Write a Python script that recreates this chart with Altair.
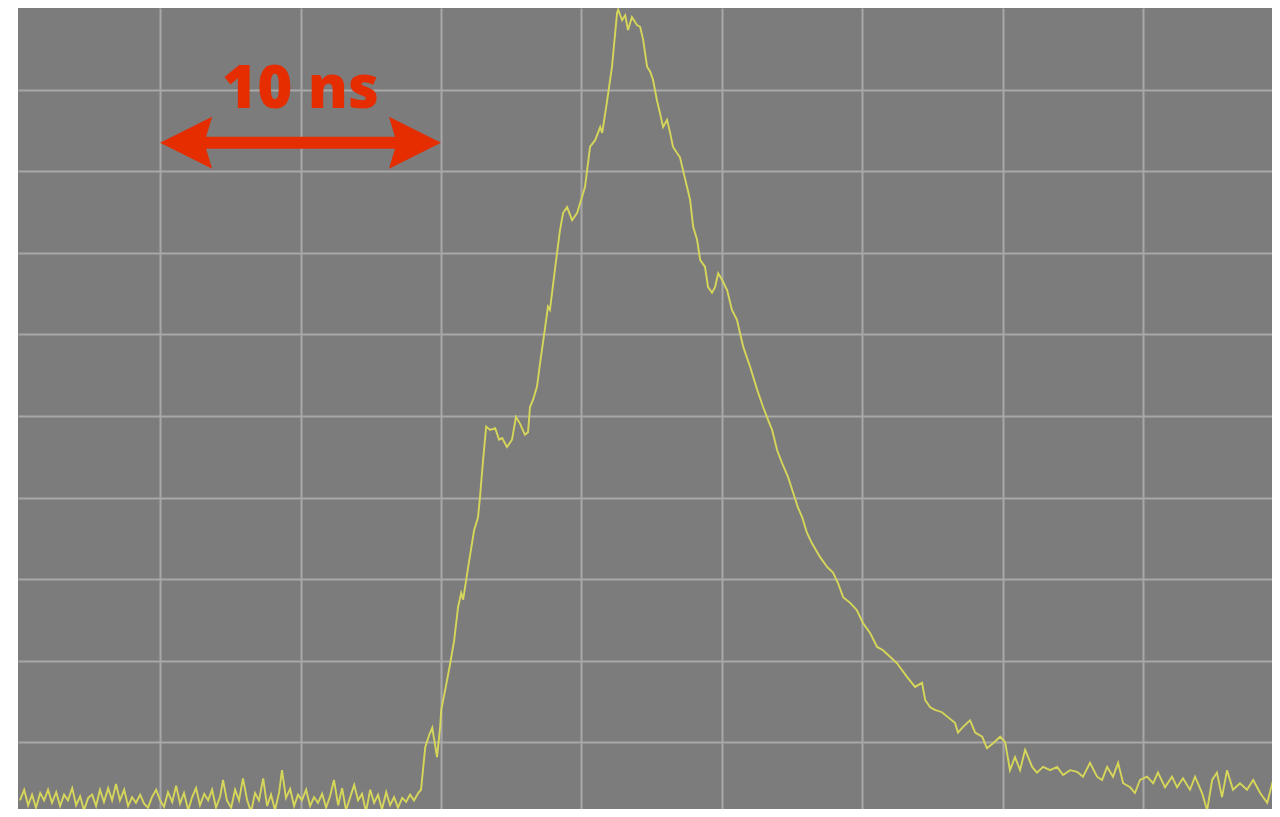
import altair as alt
import pandas as pd

# Oscilloscope trace: time in ns (5 ns / div), amplitude in divisions
t_ns = [
    0.01, 0.16, 0.30, 0.44, 0.58, 0.73, 0.87, 1.01, 1.15, 1.30, 1.44, 1.58, 1.72, 1.87, 2.01, 2.15,
    2.29, 2.44, 2.58, 2.72, 2.86, 3.00, 3.15, 3.29, 3.43, 3.57, 3.72, 3.86, 4.00, 4.14, 4.29, 4.43,
    4.57, 4.71, 4.86, 5.00, 5.14, 5.28, 5.43, 5.57, 5.71, 5.85, 6.00, 6.14, 6.28, 6.42, 6.57, 6.71,
    6.85, 6.99, 7.14, 7.24, 7.38, 7.53, 7.67, 7.81, 7.95, 8.10, 8.24, 8.38, 8.52, 8.67, 8.81, 8.95,
    9.09, 9.24, 9.34, 9.48, 9.63, 9.77, 9.91, 10.05, 10.20, 10.34, 10.48, 10.62, 10.77, 10.91, 11.05,
    11.19, 11.34, 11.48, 11.62, 11.76, 11.91, 12.05, 12.19, 12.33, 12.48, 12.62, 12.76, 12.90, 13.05,
    13.19, 13.33, 13.47, 13.62, 13.76, 13.90, 14.04, 14.19, 14.29,
    14.44, 14.58, 14.69, 14.79, 14.86, 14.97, 15.01, 15.15, 15.33, 15.47, 15.61, 15.72, 15.79, 15.97,
    16.18, 16.32, 16.39, 16.50, 16.61, 16.75, 16.93, 17.07, 17.18, 17.35, 17.53, 17.67, 17.81, 17.99,
    18.10, 18.17, 18.28, 18.42, 18.53, 18.71, 18.81, 18.88, 19.10, 19.24, 19.35, 19.49, 19.67, 19.85,
    20.02, 20.13, 20.31, 20.49, 20.67, 20.74, 20.92, 21.09, 21.27, 21.31, 21.45, 21.56, 21.66, 21.80,
    21.98, 22.09, 22.20, 22.34, 22.45, 22.55, 22.69, 22.80, 22.91, 23.05, 23.16, 23.26, 23.41, 23.51,
    23.62, 23.76, 23.87, 23.98, 24.12, 24.23, 24.40, 24.51, 24.65, 24.76, 24.87, 25.01, 25.19, 25.36,
    25.54, 25.76, 26.01, 26.26, 26.47, 26.65, 26.79, 26.97, 27.15, 27.36, 27.54, 27.71, 27.86, 28.03,
    28.21, 28.50, 28.75, 28.96, 29.14, 29.32, 29.57, 29.81, 30.03, 30.28, 30.53, 30.74, 30.99, 31.24,
    31.60, 31.88, 32.13, 32.24, 32.42, 32.59, 32.84, 33.05, 33.30, 33.41, 33.59, 33.84, 34.02, 34.27,
    34.44, 34.66, 34.91, 35.09, 35.26, 35.44, 35.62, 35.80, 36.05, 36.22, 36.44, 36.69, 36.94, 37.15,
    37.40, 37.65, 37.86, 38.11, 38.36, 38.54, 38.72, 38.93, 39.11, 39.29, 39.54, 39.71, 39.89, 40.14,
    40.36, 40.53, 40.78, 41.03, 41.21, 41.42, 41.67, 41.85, 42.10, 42.28, 42.46, 42.63, 42.81, 42.99,
    43.20, 43.45, 43.70, 43.92, 44.17, 44.42, 44.63, 44.81, 44.92,
]
amp_div = [
    0.29, 0.42, 0.23, 0.36, 0.20, 0.38, 0.29, 0.42, 0.26, 0.39, 0.22, 0.36, 0.29, 0.44, 0.23, 0.34,
    0.17, 0.32, 0.36, 0.22, 0.42, 0.27, 0.44, 0.29, 0.49, 0.29, 0.42, 0.22, 0.33, 0.26, 0.36, 0.25,
    0.20, 0.33, 0.42, 0.29, 0.21, 0.39, 0.27, 0.47, 0.25, 0.38, 0.17, 0.33, 0.44, 0.23, 0.37, 0.29,
    0.42, 0.20, 0.34, 0.54, 0.29, 0.20, 0.42, 0.29, 0.56, 0.29, 0.15, 0.38, 0.29, 0.56, 0.22, 0.36,
    0.17, 0.39, 0.66, 0.32, 0.43, 0.22, 0.36, 0.29, 0.42, 0.22, 0.33, 0.26, 0.37, 0.20, 0.34,
    0.54, 0.23, 0.44, 0.17, 0.32, 0.48, 0.29, 0.37, 0.15, 0.42, 0.26, 0.36, 0.18, 0.39,
    0.23, 0.33, 0.20, 0.32, 0.27, 0.36, 0.29, 0.38, 0.42,
    0.94, 1.09, 1.18, 0.97, 0.82, 1.19, 1.40, 1.64, 1.97, 2.25, 2.66, 2.83, 2.75, 3.15,
    3.60, 3.76, 4.01, 4.46, 4.87, 4.83, 4.85, 4.71, 4.73, 4.62, 4.71, 4.99, 4.91, 4.77,
    4.80, 5.11, 5.20, 5.36, 5.65, 6.09, 6.34, 6.30, 6.91, 7.28, 7.49, 7.56, 7.40, 7.49,
    7.68, 7.81, 8.30, 8.38, 8.54, 8.47, 8.87, 9.28, 9.94, 9.98, 9.85, 9.91, 9.73, 9.89,
    9.79, 9.77, 9.61, 9.28, 9.22, 9.12, 8.87, 8.71, 8.54, 8.63, 8.47, 8.30, 8.22, 8.17,
    8.01, 7.81, 7.65, 7.32, 7.16, 6.91, 6.83, 6.58, 6.51, 6.58, 6.75, 6.67, 6.54, 6.30,
    6.18, 5.85, 5.60, 5.32, 5.11, 4.95, 4.83, 4.58, 4.42, 4.25, 4.06, 3.88, 3.76, 3.57,
    3.44, 3.27, 3.15, 3.08, 2.95, 2.78, 2.71, 2.62, 2.46, 2.34, 2.17, 2.13, 2.05, 1.97,
    1.80, 1.68, 1.73, 1.52, 1.43, 1.40, 1.37, 1.31, 1.24, 1.12, 1.19, 1.27, 1.12, 1.07,
    0.93, 0.99, 1.07, 1.00, 0.66, 0.82, 0.66, 0.91, 0.70, 0.63, 0.70, 0.66, 0.70, 0.60,
    0.66, 0.64, 0.58, 0.75, 0.58, 0.54, 0.70, 0.58, 0.75, 0.50, 0.45, 0.38, 0.54, 0.58,
    0.50, 0.63, 0.45, 0.58, 0.45, 0.56, 0.42, 0.58, 0.38, 0.17, 0.54, 0.63, 0.33, 0.66,
    0.42, 0.50, 0.42, 0.54, 0.38, 0.26, 0.54, 0.66, 0.60,
]

# Annotation: 10 ns span marker
span_start_ns = [5.0]
span_end_ns = [15.0]
span_level = [8.35]
span_label = ["10 ns"]
label_level = [8.77]

x_grid = [5, 10, 15, 20, 25, 30, 35, 40]
y_grid = [1, 2, 3, 4, 5, 6, 7, 8, 9]

X_DOMAIN = [-0.06, 44.59]
Y_DOMAIN = [0.184, 10.0]
RED = "#e52d00"
GRID = "#a8a8a8"

trace = pd.DataFrame({"t": t_ns, "v": amp_div})
ann = pd.DataFrame({
    "t0": span_start_ns, "t1": span_end_ns, "v": span_level,
    "label": span_label, "lv": label_level,
    "mid": [(a + b) / 2 for a, b in zip(span_start_ns, span_end_ns)],
})

xs = alt.Scale(domain=X_DOMAIN, nice=False, zero=False)
ys = alt.Scale(domain=Y_DOMAIN, nice=False, zero=False)
xaxis = alt.Axis(values=x_grid, grid=True, labels=False, ticks=False, domain=False,
                 title=None, gridColor=GRID, gridWidth=2, gridOpacity=1)
yaxis = alt.Axis(values=y_grid, grid=True, labels=False, ticks=False, domain=False,
                 title=None, gridColor=GRID, gridWidth=2, gridOpacity=1)

line = alt.Chart(trace).mark_line(color="#d6d65a", strokeWidth=1.9, clip=True).encode(
    x=alt.X("t:Q", scale=xs, axis=xaxis),
    y=alt.Y("v:Q", scale=ys, axis=yaxis),
)

base = alt.Chart(ann)
# shaft stops short of the tips so the heads form the points
shaft = base.mark_rule(color=RED, strokeWidth=12, strokeCap="butt").encode(
    x=alt.X("t0s:Q", scale=xs),
    x2="t1s:Q",
    y=alt.Y("v:Q", scale=ys),
).transform_calculate(t0s="datum.t0 + 0.5", t1s="datum.t1 - 0.5")

head_left = base.mark_point(
    shape="M 0 0 L 2 -1 L 1.7 0 L 2 1 Z", filled=True, color=RED, opacity=1, size=2704
).encode(x=alt.X("t0:Q", scale=xs), y=alt.Y("v:Q", scale=ys))

head_right = base.mark_point(
    shape="M 0 0 L -2 -1 L -1.7 0 L -2 1 Z", filled=True, color=RED, opacity=1, size=2704
).encode(x=alt.X("t1:Q", scale=xs), y=alt.Y("v:Q", scale=ys))

label = base.mark_text(
    color=RED, font="Open Sans", fontWeight=800, fontSize=60, align="center", baseline="alphabetic"
).encode(x=alt.X("mid:Q", scale=xs), y=alt.Y("lv:Q", scale=ys), text="label:N")

chart = alt.layer(line, shaft, head_left, head_right, label).properties(
    width=1254, height=801,
    autosize=alt.AutoSizeParams(type="none"),
    padding={"left": 10, "top": 0, "right": 0, "bottom": 0},
    background="white",
).configure_view(fill="#7c7c7c", strokeWidth=0)

chart.save("out.html", embed_options={"renderer": "svg", "actions": False})
